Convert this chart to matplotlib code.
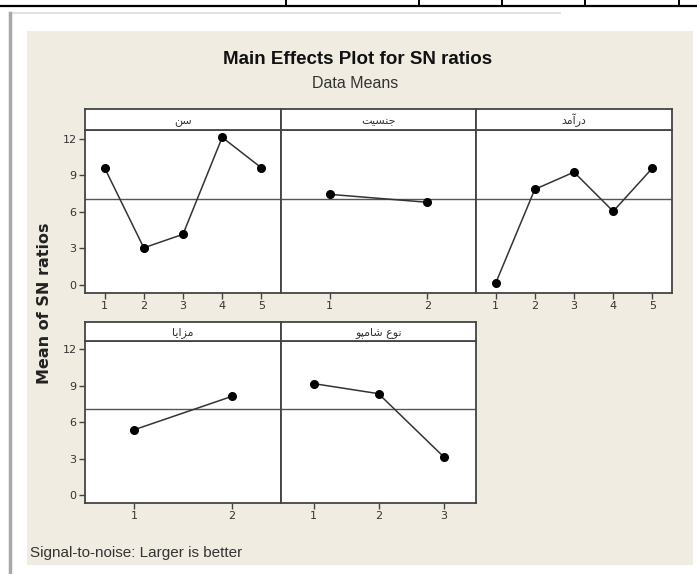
import matplotlib
matplotlib.use("Agg")
import matplotlib.pyplot as plt
from matplotlib.lines import Line2D
from matplotlib.patches import Rectangle

# factor names (Persian) and the SN-ratio level means
factor_names = ["سن", "جنسیت", "درآمد", "مزایا", "نوع شامپو"]
age = [9.6, 3.05, 4.16, 12.1, 9.6]
gender = [7.43, 6.78]
income = [0.14, 7.84, 9.25, 6.04, 9.58]
benefits = [5.38, 8.14]
shampoo = [9.19, 8.36, 3.17]
grand_mean = 7.08
yticks = [0, 3, 6, 9, 12]

# matplotlib has no Arabic shaping, so pick the presentation forms by hand
forms = {
    "س": "\ufeb1\ufeb2\ufeb3\ufeb4", "ش": "\ufeb5\ufeb6\ufeb7\ufeb8",
    "ن": "\ufee5\ufee6\ufee7\ufee8", "ج": "\ufe9d\ufe9e\ufe9f\ufea0",
    "ی": "\ufbfc\ufbfd\ufbfe\ufbff", "ت": "\ufe95\ufe96\ufe97\ufe98",
    "م": "\ufee1\ufee2\ufee3\ufee4", "ع": "\ufec9\ufeca\ufecb\ufecc",
    "پ": "\ufb56\ufb57\ufb58\ufb59",
    "د": "\ufea9\ufeaa", "ر": "\ufead\ufeae", "ز": "\ufeaf\ufeb0",
    "آ": "\ufe81\ufe82", "ا": "\ufe8d\ufe8e", "و": "\ufeed\ufeee",
}


def shape(word):
    out = []
    for i, c in enumerate(word):
        if c not in forms:
            out.append(c)
            continue
        prev = word[i - 1] if i > 0 else None
        nxt = word[i + 1] if i + 1 < len(word) else None
        jp = prev in forms and len(forms[prev]) == 4
        jn = len(forms[c]) == 4 and nxt in forms
        f = forms[c]
        if jp and jn:
            g = f[3]
        elif jp:
            g = f[1]
        elif jn:
            g = f[2]
        else:
            g = f[0]
        out.append(g)
    return "".join(reversed(out))


W, H = 697, 574
fig = plt.figure(figsize=(W / 100, H / 100), dpi=100)
fig.patch.set_facecolor("white")


def fx(x):
    return x / W


def fy(y):
    return 1 - y / H


# page decorations: table edge at the top, shadow frame, beige plot area
fig.add_artist(Line2D([0, 1], [fy(6), fy(6)], color="black", lw=1.6))
for x in [286, 419, 502, 585, 679]:
    fig.add_artist(Line2D([fx(x), fx(x)], [1, fy(6)], color="black", lw=1.4))
fig.add_artist(Line2D([fx(10), fx(560)], [fy(13), fy(13)], color="#dcdcdc", lw=1.2))
fig.add_artist(Line2D([fx(10), fx(10)], [fy(13), 0], color="#a8a8a8", lw=2.5))
fig.add_artist(Rectangle((fx(27), fy(565)), fx(693) - fx(27), fy(31) - fy(565),
                         transform=fig.transFigure, facecolor="#f1ece2",
                         edgecolor="none", zorder=0))

fig.text(fx(358), fy(60), "Main Effects Plot for SN ratios",
         family=["Liberation Sans"], weight="bold",
         fontsize=13.5, ha="center", va="center", color="#111111")
fig.text(fx(355), fy(83), "Data Means", family=["Liberation Sans"],
         fontsize=11.5, ha="center", va="center", color="#333333")
fig.text(fx(45), fy(303), "Mean of SN ratios", family=["DejaVu Sans"], weight="bold",
         fontsize=11.5, rotation=90, ha="center", va="center", color="#222222")
fig.text(fx(30), fy(553), "Signal-to-noise: Larger is better",
         family=["Liberation Sans"], fontsize=11,
         ha="left", va="center", color="#333333")

series = [age, gender, income, benefits, shampoo]
# panel boxes in pixels: left, right, strip top, data top, data bottom
boxes = [
    (85, 281, 109, 130, 293),
    (281, 476, 109, 130, 293),
    (476, 672, 109, 130, 293),
    (85, 281, 322, 341, 503),
    (281, 476, 322, 341, 503),
]
edge = "#444444"

for i, (name, vals, box) in enumerate(zip(factor_names, series, boxes)):
    l, r, st, dt, db = box
    ax = fig.add_axes([fx(l), fy(db), fx(r) - fx(l), fy(dt) - fy(db)])
    ax.set_facecolor("white")
    levels = list(range(1, len(vals) + 1))
    ax.axhline(grand_mean, color="#555555", lw=1.0, zorder=1)
    ax.plot(levels, vals, color="#333333", lw=1.1, marker="o", ms=5.5,
            mfc="black", mec="black", zorder=3)
    ax.set_xlim(0.5, len(vals) + 0.5)
    ax.set_ylim(-0.65, 12.7)
    ax.set_xticks(levels)
    ax.set_yticks(yticks)
    ax.tick_params(direction="out", length=4, width=1, color="#444444",
                   labelsize=8, labelcolor="#333333", pad=2)
    if i in (0, 3):
        ax.tick_params(axis="y", left=True, labelleft=True)
    else:
        ax.tick_params(axis="y", left=False, labelleft=False)
    for sp in ax.spines.values():
        sp.set_color(edge)
        sp.set_linewidth(1.3)

    sax = fig.add_axes([fx(l), fy(dt), fx(r) - fx(l), fy(st) - fy(dt)])
    sax.set_facecolor("white")
    sax.set_xticks([])
    sax.set_yticks([])
    for sp in sax.spines.values():
        sp.set_color(edge)
        sp.set_linewidth(1.3)
    sax.text(0.5, 0.45, shape(name), transform=sax.transAxes, ha="center",
             va="center", fontsize=8, family=["DejaVu Sans"], color="#333333")

fig.savefig("out.png", dpi=100, facecolor=fig.get_facecolor())
